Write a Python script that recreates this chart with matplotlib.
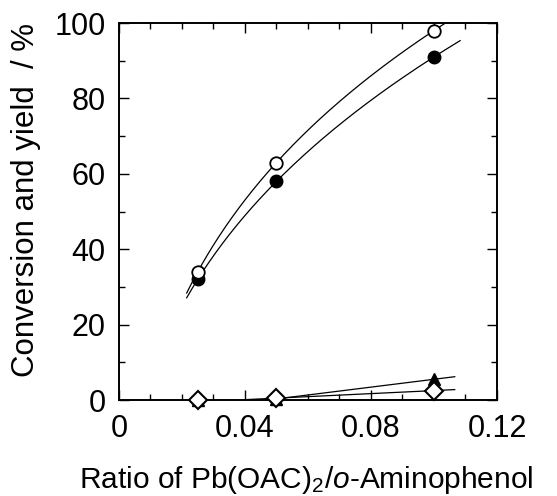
import numpy as np
import matplotlib
matplotlib.use("Agg")
import matplotlib.pyplot as plt
from matplotlib.ticker import MultipleLocator, FuncFormatter

plt.rcParams['font.family'] = ['Liberation Sans', 'DejaVu Sans']
plt.rcParams['mathtext.fontset'] = 'custom'
plt.rcParams['mathtext.rm'] = 'Liberation Sans'
plt.rcParams['mathtext.it'] = 'Liberation Sans:italic'

# data
ratio = [0.025, 0.05, 0.1]
conversion = [34, 63, 98]        # open circles
yield_main = [32, 58, 91]        # filled circles
yield_tri = [0.0, 0.3, 5.5]      # filled triangles
yield_dia = [0.0, 0.5, 2.5]      # open diamonds


def power_fit(xs, ys):
    """Fit y = c + a * x**b exactly through three points."""
    x1, x2, x3 = xs
    y1, y2, y3 = ys
    target = (y3 - y2) / (y2 - y1)
    lo, hi = 0.01, 3.0
    for _ in range(100):
        b = 0.5 * (lo + hi)
        r = (x3**b - x2**b) / (x2**b - x1**b)
        if r < target:
            lo = b
        else:
            hi = b
    a = (y2 - y1) / (x2**b - x1**b)
    c = y1 - a * x1**b
    return lambda t: c + a * np.asarray(t)**b


fig = plt.figure(figsize=(5.57, 4.96), dpi=100)
ax = fig.add_axes([0.2136, 0.1935, 0.6786, 0.7601])

# fitted curves
fc = power_fit(ratio, conversion)
xc = np.linspace(0.0215, 0.1035, 200)
ax.plot(xc, fc(xc), color='black', lw=0.9)
fy = power_fit(ratio, yield_main)
xy = np.linspace(0.0215, 0.1083, 200)
ax.plot(xy, fy(xy), color='black', lw=0.9)
x = np.array(ratio)
pt = np.polyfit(x[1:], yield_tri[1:], 1)
xt = np.linspace(0.040, 0.1066, 50)
ax.plot(xt, np.polyval(pt, xt), color='black', lw=0.9)
pdia = np.polyfit(x[1:], yield_dia[1:], 1)
ax.plot(xt, np.polyval(pdia, xt), color='black', lw=0.9)

ax.plot(ratio, yield_tri, '^', ms=9, mfc='black', mec='black', ls='none', clip_on=False, zorder=3)
ax.plot(ratio, yield_dia, 'D', ms=9.5, mfc='white', mec='black', mew=1.5, ls='none', clip_on=False, zorder=4)
ax.plot(ratio, yield_main, 'o', ms=9, mfc='black', mec='black', ls='none', zorder=3)
ax.plot(ratio, conversion, 'o', ms=9, mfc='white', mec='black', mew=1.3, ls='none', clip_on=False, zorder=4)

ax.set_xlim(0, 0.12)
ax.set_ylim(0, 100)
ax.xaxis.set_major_locator(MultipleLocator(0.04))
ax.xaxis.set_minor_locator(MultipleLocator(0.01))
ax.yaxis.set_major_locator(MultipleLocator(20))
ax.yaxis.set_minor_locator(MultipleLocator(10))
ax.xaxis.set_major_formatter(FuncFormatter(lambda v, p: '0' if abs(v) < 1e-9 else f'{v:.2f}'))
ax.tick_params(which='both', direction='in', top=True, right=True, labelsize=22, width=1.0)
ax.tick_params(axis='x', which='major', length=7, pad=10)
ax.tick_params(axis='y', which='major', length=7, pad=9.5)
ax.tick_params(which='minor', length=4)
for s in ax.spines.values():
    s.set_linewidth(1.4)

ax.set_ylabel('Conversion and yield  / %', fontsize=22.5)
ax.yaxis.set_label_coords(-0.205, 0.53)
ax.set_xlabel(r'Ratio of Pb(OAC)$_{\mathit{2}}$/$\mathit{o}$-Aminophenol', fontsize=21.5)
ax.xaxis.set_label_coords(0.495, -0.169)

fig.savefig('out.png', dpi=100)
